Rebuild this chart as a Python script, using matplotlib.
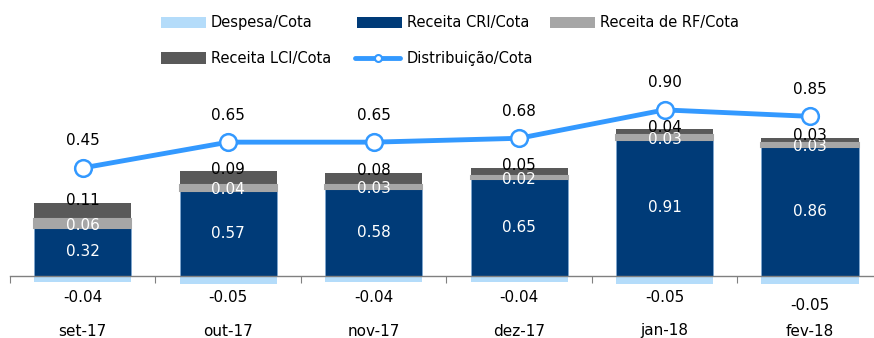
import matplotlib
matplotlib.use("Agg")
import matplotlib.pyplot as plt
import matplotlib.transforms as mtransforms
from matplotlib.patches import Rectangle
from matplotlib.lines import Line2D
import numpy as np

plt.rcParams['font.family'] = ['DejaVu Sans']

categories = ["set-17", "out-17", "nov-17", "dez-17", "jan-18", "fev-18"]
despesa = [-0.04, -0.05, -0.04, -0.04, -0.05, -0.05]
receita_cri = [0.32, 0.57, 0.58, 0.65, 0.91, 0.86]
receita_rf = [0.06, 0.04, 0.03, 0.02, 0.03, 0.03]
receita_lci = [0.11, 0.09, 0.08, 0.05, 0.04, 0.03]
distribuicao = [0.45, 0.65, 0.65, 0.68, 0.90, 0.85]
legend_labels = ["Despesa/Cota", "Receita CRI/Cota", "Receita de RF/Cota",
                 "Receita LCI/Cota", "Distribuição/Cota"]

C_DESP = "#B4DCFA"
C_CRI = "#003B78"
C_RF = "#A6A6A6"
C_LCI = "#595959"
C_LINE = "#3399FF"

W, H = 874, 338
fig = plt.figure(figsize=(W / 100, H / 100), dpi=100)

ax_bottom_px, ax_top_px = 300, 80
ax = fig.add_axes([10 / W, (H - ax_bottom_px) / H, 864 / W, (ax_bottom_px - ax_top_px) / H])
zero_px, scale1 = 276, 150.0
ax.set_ylim(-(ax_bottom_px - zero_px) / scale1, (zero_px - ax_top_px) / scale1)
ax.set_xlim(-0.5, 5.44)

x = np.arange(len(categories))
bw = 0.667
cri = np.array(receita_cri)
rf = np.array(receita_rf)
lci = np.array(receita_lci)

ax.bar(x, despesa, bw, color=C_DESP, zorder=2)
ax.bar(x, cri, bw, color=C_CRI, edgecolor="#7FA7D0", linewidth=0.6, zorder=2)
ax.bar(x, rf, bw, bottom=cri, color=C_RF, edgecolor=C_RF, linewidth=1.5, zorder=3)
ax.bar(x, lci, bw, bottom=cri + rf, color=C_LCI, zorder=2)

for s in ["top", "right", "left"]:
    ax.spines[s].set_visible(False)
ax.spines["bottom"].set_position(("data", 0))
ax.spines["bottom"].set_color("#808080")
ax.spines["bottom"].set_linewidth(1.0)
ax.set_yticks([])
ax.set_xticks(np.arange(-0.5, 5.0, 1.0))
ax.tick_params(axis="x", direction="out", length=5, color="#808080", labelbottom=False)

fs = 11
for i in range(len(categories)):
    ax.text(x[i], cri[i] / 2, f"{cri[i]:.2f}", ha="center", va="center", color="white", fontsize=fs, zorder=5)
    ax.annotate(f"{rf[i]:.2f}", (x[i], cri[i] + rf[i] / 2), xytext=(0, -2), textcoords="offset pixels",
                ha="center", va="center", color="white", fontsize=fs, zorder=5)
    ax.annotate(f"{lci[i]:.2f}", (x[i], cri[i] + rf[i] + lci[i]), xytext=(0, 2), textcoords="offset pixels",
                ha="center", va="center", color="black", fontsize=fs, zorder=5)

trans = mtransforms.blended_transform_factory(ax.transData, fig.transFigure)
for i, c in enumerate(categories):
    ly = 305 if i == len(categories) - 1 else 298
    ax.text(x[i], (H - ly) / H, f"{despesa[i]:.2f}", transform=trans, ha="center", va="center", fontsize=fs)
    ax.text(x[i], (H - 331) / H, c, transform=trans, ha="center", va="center", fontsize=fs)

ax2 = ax.twinx()
zero2, scale2 = 226, 129.0
ax2.set_ylim((zero2 - ax_bottom_px) / scale2, (zero2 - ax_top_px) / scale2)
ax2.plot(x, distribuicao, color=C_LINE, linewidth=3.5, marker="o", markersize=12,
         markerfacecolor="white", markeredgecolor=C_LINE, markeredgewidth=1.8, zorder=6, clip_on=False)
for i, v in enumerate(distribuicao):
    ax2.annotate(f"{v:.2f}", (x[i], v), xytext=(0, 27), textcoords="offset pixels",
                 ha="center", va="center", fontsize=fs)
ax2.axis("off")

# Manual legend (figure pixel positions)
def fx(px):
    return px / W

def fy(py):
    return 1 - py / H

legend_items = [
    ("patch", C_DESP, legend_labels[0], 161, 22),
    ("patch", C_CRI, legend_labels[1], 357, 22),
    ("patch", C_RF, legend_labels[2], 550, 22),
    ("patch", C_LCI, legend_labels[3], 161, 58),
    ("line", C_LINE, legend_labels[4], 355, 58),
]
for kind, col, lab, px, py in legend_items:
    if kind == "patch":
        fig.add_artist(Rectangle((fx(px), fy(py + 5.5)), 45 / W, 11 / H, transform=fig.transFigure,
                                 facecolor=col, edgecolor="none"))
        tx = px + 50
    else:
        fig.add_artist(Line2D([fx(px), fx(px + 45)], [fy(py), fy(py)], transform=fig.transFigure,
                              color=col, linewidth=3.5, solid_capstyle="round"))
        fig.add_artist(Line2D([fx(px + 22.5)], [fy(py)], transform=fig.transFigure, marker="o",
                              markersize=5, markerfacecolor="white", markeredgecolor=col,
                              markeredgewidth=1.5, linestyle="none"))
        tx = px + 52
    fig.text(fx(tx), fy(py), lab, ha="left", va="center", fontsize=10.5)

fig.savefig("out.png", dpi=100)
